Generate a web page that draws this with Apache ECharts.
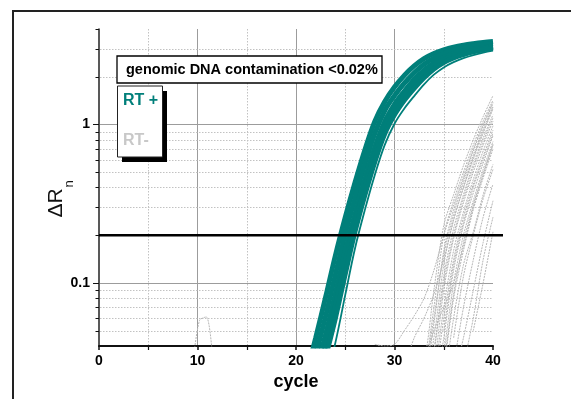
<!DOCTYPE html>
<html lang="en">
<head>
<meta charset="UTF-8">
<title>RT+ / RT- amplification plot</title>
<script src="https://cdn.jsdelivr.net/npm/echarts/dist/echarts.min.js"></script>
<style>
  html, body { margin: 0; padding: 0; background: #fff; overflow: hidden; }
  #chart { width: 571px; height: 399px; }
</style>
</head>
<body>
<div id="chart"></div>
<script>
  // cycles for the RT+ curves and the late RT- curves
  const cycles = [20, 21, 22, 23, 24, 25, 26, 27, 28, 29, 30, 31, 32, 33, 34, 35, 36, 37, 38, 39, 40];
  const lateCycles = [28, 29, 30, 31, 32, 33, 34, 35, 36, 37, 38, 39, 40];

  // RT+ (teal band), earliest to latest
  const rtPlus1 = [0.016, 0.026, 0.045, 0.081, 0.149, 0.259, 0.432, 0.693, 1.045, 1.39, 1.72, 2.04, 2.34, 2.6, 2.8, 2.95, 3.07, 3.16, 3.23, 3.29, 3.34];
  const rtPlus2 = [0.0126, 0.021, 0.0352, 0.0614, 0.113, 0.204, 0.344, 0.564, 0.877, 1.22, 1.52, 1.82, 2.12, 2.4, 2.62, 2.8, 2.94, 3.04, 3.12, 3.18, 3.23];
  const rtPlus3 = [0.0099, 0.0166, 0.0278, 0.0471, 0.0857, 0.159, 0.273, 0.454, 0.72, 1.04, 1.34, 1.62, 1.92, 2.2, 2.45, 2.64, 2.79, 2.9, 2.99, 3.06, 3.12];
  const rtPlus4 = [0.0086, 0.014, 0.0235, 0.04, 0.072, 0.135, 0.24, 0.405, 0.65, 0.96, 1.26, 1.54, 1.82, 2.1, 2.35, 2.55, 2.71, 2.83, 2.93, 3.01, 3.08];
  const rtPlus5 = [0.0075, 0.012, 0.020, 0.034, 0.06, 0.114, 0.212, 0.36, 0.58, 0.87, 1.15, 1.42, 1.69, 1.97, 2.24, 2.46, 2.63, 2.76, 2.87, 2.96, 3.03];
  const rtPlusLate = [0.006, 0.009, 0.014, 0.024, 0.042, 0.084, 0.166, 0.29, 0.48, 0.74, 1.01, 1.26, 1.51, 1.79, 2.06, 2.29, 2.47, 2.62, 2.74, 2.84, 2.92];

  // RT- curves (grey dotted), values at lateCycles, null = not yet visible
  const rtMinus = [
    [null, null, 0.02, 0.022, 0.026, 0.032, 0.09, 0.23, 0.36, 0.55, 0.8, 1.12, 1.52],
    [null, null, null, 0.02, 0.022, 0.028, 0.07, 0.2, 0.33, 0.5, 0.74, 1.05, 1.42],
    [null, null, null, null, 0.02, 0.024, 0.055, 0.16, 0.29, 0.45, 0.68, 0.98, 1.35],
    [null, null, null, null, null, 0.025, 0.06, 0.15, 0.27, 0.43, 0.64, 0.93, 1.3],
    [null, null, null, null, 0.02, 0.022, 0.045, 0.13, 0.25, 0.4, 0.6, 0.88, 1.25],
    [null, null, null, null, null, 0.02, 0.038, 0.11, 0.22, 0.36, 0.56, 0.82, 1.15],
    [null, null, null, null, null, null, 0.035, 0.1, 0.2, 0.34, 0.53, 0.78, 1.1],
    [null, null, null, null, null, 0.018, 0.03, 0.09, 0.19, 0.32, 0.5, 0.74, 1.05],
    [null, null, null, null, null, null, 0.024, 0.07, 0.16, 0.28, 0.45, 0.68, 0.98],
    [null, null, null, null, null, null, 0.02, 0.06, 0.14, 0.26, 0.42, 0.63, 0.92],
    [null, null, null, null, null, null, null, 0.05, 0.13, 0.24, 0.4, 0.6, 0.88],
    [null, null, null, null, null, null, 0.018, 0.045, 0.12, 0.23, 0.37, 0.57, 0.85],
    [null, null, null, null, null, null, null, 0.035, 0.1, 0.2, 0.33, 0.52, 0.78],
    [null, null, null, null, null, null, null, 0.03, 0.085, 0.18, 0.31, 0.49, 0.74],
    [null, null, null, null, null, null, null, 0.028, 0.08, 0.16, 0.29, 0.46, 0.7],
    [null, null, null, null, null, null, null, 0.022, 0.06, 0.13, 0.21, 0.36, 0.56],
    [null, null, null, null, null, null, null, null, 0.045, 0.11, 0.2, 0.34, 0.52],
    [null, null, null, null, null, null, null, null, 0.03, 0.07, 0.14, 0.26, 0.42],
    [null, null, null, null, null, null, null, null, null, 0.03, 0.06, 0.14, 0.26],
    [null, null, null, null, null, null, null, null, null, null, 0.05, 0.1, 0.21],
    [0.041, 0.04, 0.041, 0.05, 0.062, 0.08, 0.12, 0.2, 0.31, 0.47, 0.7, 1.0, 1.38],
    [null, null, null, 0.03, 0.045, 0.06, 0.085, 0.14, 0.25, 0.4, 0.62, 0.9, 1.28],
    [null, null, null, null, null, 0.03, 0.05, 0.07, 0.1, 0.17, 0.3, 0.48, 0.75],
    [null, null, null, null, null, null, null, null, 0.025, 0.045, 0.09, 0.18, 0.33]
  ];
  // one early RT- blip around cycle 10
  const noiseCycles = [9.5, 10.2, 10.9, 11.6];
  const noiseValues = [0.03, 0.058, 0.061, 0.03];

  const threshold = 0.2;
  const yMajor = [0.1, 1];
  const yMinor = [0.05, 0.06, 0.07, 0.08, 0.09, 0.3, 0.4, 0.5, 0.6, 0.7, 0.8, 0.9, 2, 3];
  const yTickOnly = [0.2, 4];

  const TEAL = '#007f7a';
  const GREY = '#b6b6b6';
  const FONT = '"Liberation Sans", Arial, sans-serif';

  function pairs(xs, ys) {
    return xs.map((x, i) => [x, ys[i]]).filter(p => p[1] != null);
  }

  const chart = echarts.init(document.getElementById('chart'));

  const series = [];

  // y grid lines + y ticks (log axis minor ticks at 2..9 per decade)
  const yGridData = []
    .concat(yMajor.map(v => [0, v, 0]))
    .concat(yMinor.map(v => [0, v, 1]))
    .concat(yTickOnly.map(v => [0, v, 2]));
  series.push({
    type: 'custom',
    silent: true,
    clip: false,
    z: 1,
    encode: { x: 0, y: 1 },
    data: yGridData,
    renderItem: function (params, api) {
      const v = api.value(1);
      const kind = api.value(2);
      const a = api.coord([0, v]);
      const b = api.coord([40, v]);
      const y = Math.round(a[1]) + 0.5;
      const kids = [{
        type: 'line',
        shape: { x1: a[0] - (kind === 0 ? 6 : 3.5), y1: y, x2: a[0], y2: y },
        style: { stroke: '#111', lineWidth: 1 }
      }];
      if (kind !== 2) {
        kids.push({
          type: 'line',
          shape: { x1: a[0] + 1, y1: y, x2: b[0], y2: y },
          style: kind === 0
            ? { stroke: '#9c9c9c', lineWidth: 1 }
            : { stroke: '#c2c2c2', lineWidth: 1, lineDash: [1.5, 1.5] }
        });
      }
      return { type: 'group', children: kids };
    }
  });

  // RT- curves
  rtMinus.forEach(vals => {
    series.push({
      type: 'line', data: pairs(lateCycles, vals), showSymbol: false, smooth: 0.3,
      lineStyle: { color: GREY, width: 1, type: [2, 1] }, z: 2, silent: true
    });
  });
  series.push({
    type: 'line', data: pairs(noiseCycles, noiseValues), showSymbol: false, smooth: 0.3,
    lineStyle: { color: GREY, width: 1, type: [2, 1] }, z: 2, silent: true
  });

  // RT+ curves
  [rtPlus1, rtPlus2, rtPlus3, rtPlus4, rtPlus5].forEach(vals => {
    series.push({
      type: 'line', data: pairs(cycles, vals), showSymbol: false, smooth: 0.35,
      lineStyle: { color: TEAL, width: 5 }, z: 3, silent: true
    });
  });
  series.push({
    type: 'line', data: pairs(cycles, rtPlusLate), showSymbol: false, smooth: 0.35,
    lineStyle: { color: TEAL, width: 1.8 }, z: 3, silent: true
  });

  // threshold line (runs a little past the last cycle, as in the original)
  series.push({
    type: 'custom', silent: true, clip: false, z: 10,
    encode: { x: 0, y: 1 },
    data: [[0, threshold]],
    renderItem: function (params, api) {
      const a = api.coord([0, api.value(1)]);
      const b = api.coord([40, api.value(1)]);
      return {
        type: 'line',
        shape: { x1: a[0], y1: a[1], x2: b[0] + 10, y2: a[1] },
        style: { stroke: '#000', lineWidth: 2.5 }
      };
    }
  });

  chart.setOption({
    animation: false,
    backgroundColor: '#fff',
    grid: { left: 99, right: 78, top: 29, bottom: 53, outerBoundsMode: 'none' },
    xAxis: {
      type: 'value', min: 0, max: 40, interval: 10,
      name: 'cycle', nameLocation: 'middle', nameGap: 25,
      nameTextStyle: { fontFamily: FONT, fontWeight: 'bold', fontSize: 18, color: '#000' },
      axisLine: { onZero: false, lineStyle: { color: '#111', width: 2 } },
      axisTick: { length: 4, lineStyle: { color: '#111', width: 1.5 } },
      minorTick: { show: true, splitNumber: 2, length: 4, lineStyle: { color: '#111', width: 1.2 } },
      axisLabel: { fontFamily: FONT, fontWeight: 'bold', fontSize: 14, color: '#000', margin: 8 },
      splitLine: { show: true, showMinLine: false, showMaxLine: false, lineStyle: { color: '#9c9c9c', width: 1 } },
      minorSplitLine: { show: true, lineStyle: { color: '#c2c2c2', width: 1, type: [1.5, 1.5] } }
    },
    yAxis: {
      type: 'log', logBase: 10, min: 0.04, max: 4,
      axisLine: { lineStyle: { color: '#222', width: 1.5 } },
      axisTick: { show: false },
      splitLine: { show: false },
      axisLabel: {
        fontFamily: FONT, fontWeight: 'bold', fontSize: 14, color: '#000', margin: 9,
        showMinLabel: false, showMaxLabel: false,
        formatter: function (v) {
          if (Math.abs(v - 1) < 1e-6) return '1';
          if (Math.abs(v - 0.1) < 1e-6) return '0.1';
          return '';
        }
      }
    },
    graphic: [
      // outer frame: only its top and left edges fall inside the picture
      { type: 'polyline', z: 100, shape: { points: [[13, 420], [13, 11], [600, 11]] },
        style: { fill: null, stroke: '#222', lineWidth: 2 } },
      // y axis title: ΔR with subscript n
      { type: 'text', z: 100, x: 67, y: 203, rotation: Math.PI / 2,
        style: { text: 'ΔR', font: '21px ' + FONT, fill: '#111', align: 'center', verticalAlign: 'bottom' } },
      { type: 'text', z: 100, x: 76, y: 184, rotation: Math.PI / 2,
        style: { text: 'n', font: '13px ' + FONT, fill: '#111', align: 'center', verticalAlign: 'bottom' } },
      // title box
      { type: 'rect', z: 100, shape: { x: 117, y: 56, width: 265, height: 27 },
        style: { fill: '#fff', stroke: '#000', lineWidth: 1.3 } },
      { type: 'text', z: 101, x: 126, y: 70,
        style: { text: 'genomic DNA contamination <0.02%', font: 'bold 14.5px ' + FONT, fill: '#000', verticalAlign: 'middle' } },
      // legend box with shadow
      { type: 'rect', z: 100, shape: { x: 122, y: 91, width: 45, height: 71 }, style: { fill: '#000' } },
      { type: 'rect', z: 101, shape: { x: 117.5, y: 86, width: 45, height: 71 },
        style: { fill: '#fff', stroke: '#222', lineWidth: 1 } },
      { type: 'text', z: 102, x: 123, y: 101,
        style: { text: 'RT +', font: 'bold 16px ' + FONT, fill: TEAL, verticalAlign: 'middle' } },
      { type: 'text', z: 102, x: 123, y: 141,
        style: { text: 'RT-', font: 'bold 16px ' + FONT, fill: '#c8c8c8', verticalAlign: 'middle' } }
    ],
    series: series
  });
</script>
</body>
</html>
